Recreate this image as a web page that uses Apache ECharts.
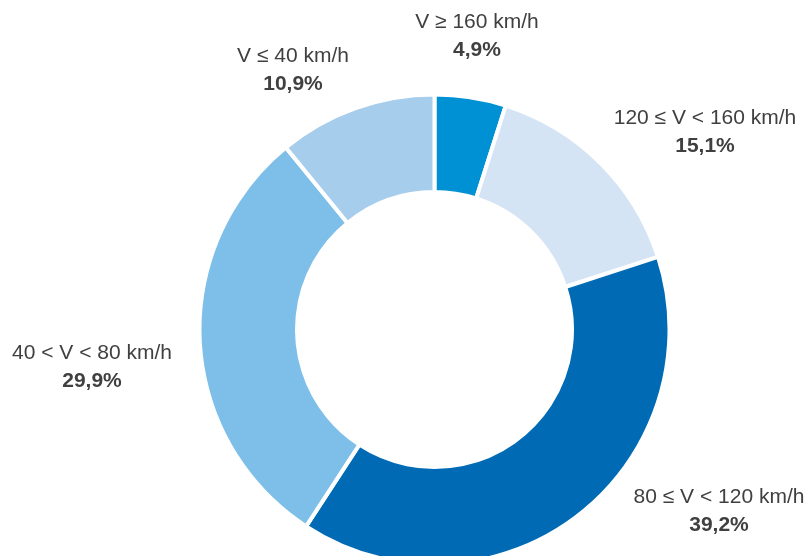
<!DOCTYPE html>
<html>
<head>
<meta charset="utf-8">
<style>html,body{margin:0;padding:0;background:#fff;}#chart{width:809px;height:556px;}</style>
<script src="https://cdn.jsdelivr.net/npm/echarts@6/dist/echarts.min.js"></script>
</head>
<body>
<div id="chart"></div>
<script>
var categories = ['V ≥ 160 km/h', '120 ≤ V < 160 km/h', '80 ≤ V < 120 km/h', '40 < V < 80 km/h', 'V ≤ 40 km/h'];
var shares = [4.9, 15.1, 39.2, 29.9, 10.9];
var colors = ['#0091d4', '#d5e4f4', '#006bb4', '#7dbfe8', '#a7cdec'];
var labelPos = [[477, 36], [705, 132], [719, 511], [92, 367], [293, 70]];

var chart = echarts.init(document.getElementById('chart'), null, {renderer: 'canvas'});
chart.setOption({
  animation: false,
  color: colors,
  series: [{
    type: 'pie',
    center: [434.5, 329.5],
    radius: [137.5, 235],
    startAngle: 90,
    clockwise: true,
    itemStyle: {borderColor: '#fff', borderWidth: 4},
    emphasis: {disabled: true},
    label: {
      show: true,
      position: 'outside',
      overflow: 'none',
      formatter: function (p) { return '{n|' + p.name + '}\n{v|' + p.value.toFixed(1).replace('.', ',') + '%}'; },
      rich: {
        n: {fontFamily: 'Liberation Sans, Arial, sans-serif', fontSize: 21, color: '#404040', lineHeight: 28, align: 'center'},
        v: {fontFamily: 'Liberation Sans, Arial, sans-serif', fontSize: 21, fontWeight: 'bold', color: '#404040', lineHeight: 28, align: 'center'}
      }
    },
    labelLine: {show: false},
    labelLayout: function (params) {
      var p = labelPos[params.dataIndex];
      return {x: p[0], y: p[1], align: 'center', verticalAlign: 'middle'};
    },
    data: categories.map(function (c, i) { return {name: c, value: shares[i]}; })
  }]
});
</script>
</body>
</html>
